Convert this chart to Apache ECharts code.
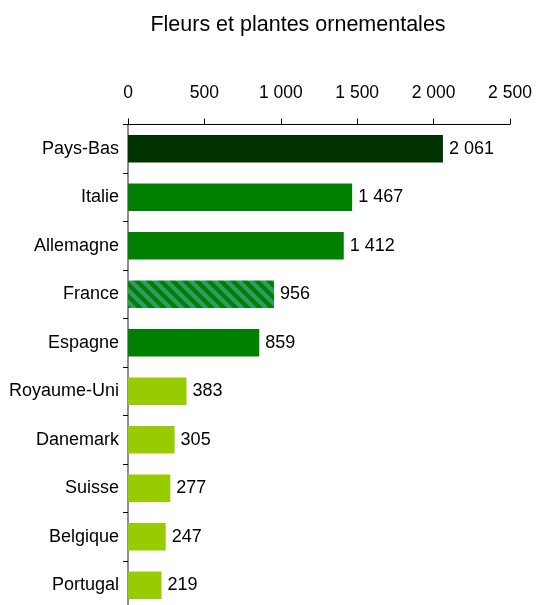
<!DOCTYPE html>
<html><head><meta charset="utf-8">
<script src="https://cdn.jsdelivr.net/npm/echarts@6/dist/echarts.min.js"></script>
<style>html,body{margin:0;padding:0;background:#fff}#c{width:536px;height:605px}</style>
</head><body><div id="c"></div>
<script>
var titleText = "Fleurs et plantes ornementales";
var categories = ["Pays-Bas","Italie","Allemagne","France","Espagne","Royaume-Uni","Danemark","Suisse","Belgique","Portugal"];
var values = [2061,1467,1412,956,859,383,305,277,247,219];
var groups = ["dark","mid","mid","france","mid","light","light","light","light","light"];
var tickValues = [0,500,1000,1500,2000,2500];

function fmt(v){ return String(v).replace(/\B(?=(\d{3})+(?!\d))/g, " "); }

var pc = document.createElement('canvas');
pc.width = 12; pc.height = 12;
var g = pc.getContext('2d');
g.fillStyle = '#339966'; g.fillRect(0,0,12,12);
g.strokeStyle = '#008000'; g.lineWidth = 4.2;
[-12,0,12].forEach(function(o){ g.beginPath(); g.moveTo(o-2,-2); g.lineTo(o+14,14); g.stroke(); });

var colorMap = { dark:'#003300', mid:'#008000', light:'#99CC00', france:{image:pc, repeat:'repeat'} };

var font = '"Liberation Sans", Arial, sans-serif';
var chart = echarts.init(document.getElementById('c'), null, {renderer:'canvas'});
chart.setOption({
  animation:false,
  title:{ text:titleText, left:293, top:9, textAlign:'center', textStyle:{fontFamily:font, fontSize:21.5, fontWeight:'normal', color:'#000'} },
  grid:{ left:128, top:124.5, right:26, height:485, containLabel:false, outerBoundsMode:'none' },
  xAxis:{ type:'value', position:'top', min:0, max:2500, interval:500,
    axisLine:{show:true, lineStyle:{color:'#000', width:1}},
    axisTick:{show:true, length:6, lineStyle:{color:'#000'}},
    splitLine:{show:false},
    axisLabel:{ margin:22, fontFamily:font, fontSize:17.5, color:'#000', formatter:function(v){return fmt(v);} } },
  yAxis:{ type:'category', inverse:true, data:categories,
    axisLine:{show:true, lineStyle:{color:'#666', width:1.5}},
    axisTick:{show:true, length:5, lineStyle:{color:'#000'}},
    axisLabel:{ margin:9, fontFamily:font, fontSize:18, color:'#000' } },
  series:[{ type:'bar', barCategoryGap:'43%',
    data: values.map(function(v,i){ return {value:v, itemStyle:{color:colorMap[groups[i]]}}; }),
    label:{ show:true, position:'right', distance:6, fontFamily:font, fontSize:18, color:'#000', formatter:function(p){return fmt(p.value);} } }]
});
</script></body></html>
